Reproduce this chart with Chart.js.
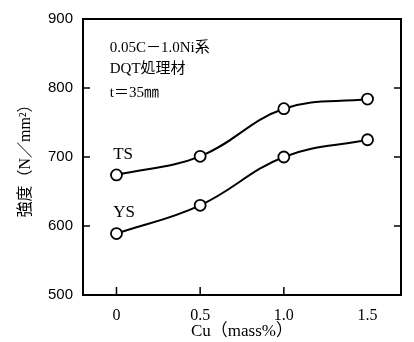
<!DOCTYPE html>
<html>
<head>
<meta charset="utf-8">
<script src="https://cdn.jsdelivr.net/npm/chart.js@4"></script>
<style>
  html, body { margin: 0; padding: 0; background: #fff; }
  canvas { display: block; }
</style>
</head>
<body>
<canvas id="strengthChart" width="414" height="342"></canvas>
<script>
// Cu content (mass%) and strength values (N/mm2)
const cuContent = [0, 0.5, 1.0, 1.5];
const tsValues = [674, 701, 770, 784];
const ysValues = [589, 630, 700, 725];
const xTicks = [0, 0.5, 1.0, 1.5];
const xTickLabels = ['0', '0.5', '1.0', '1.5'];
const yTicks = [500, 600, 700, 800, 900];
const noteLines = ['0.05C－1.0Ni系', 'DQT処理材', 't＝35㎜'];

const serif = '"Liberation Serif", "Noto Sans CJK JP", serif';
const sans = '"Liberation Sans", Arial, sans-serif';

function toPoints(ys) {
  return cuContent.map((c, i) => ({ x: c, y: ys[i] }));
}

const seriesStyle = {
  borderColor: '#000',
  borderWidth: 2,
  backgroundColor: '#fff',
  pointRadius: 5.5,
  pointBorderWidth: 1.8,
  pointBackgroundColor: '#fff',
  pointBorderColor: '#000',
  tension: 0.4,
  fill: false
};

// frame, inward tick marks and the text notes
const decorations = {
  id: 'decorations',
  afterDraw(chart) {
    const { ctx, chartArea: a, scales } = chart;
    const x = scales.x, y = scales.y;
    ctx.save();
    ctx.strokeStyle = '#000';
    ctx.lineWidth = 2;
    ctx.strokeRect(a.left, a.top, a.right - a.left, a.bottom - a.top);

    ctx.lineWidth = 1.5;
    ctx.beginPath();
    yTicks.slice(1, -1).forEach(v => {
      const py = y.getPixelForValue(v);
      ctx.moveTo(a.left, py); ctx.lineTo(a.left + 7, py);
      ctx.moveTo(a.right, py); ctx.lineTo(a.right - 7, py);
    });
    xTicks.slice(0, 3).forEach(v => {
      const px = x.getPixelForValue(v);
      ctx.moveTo(px, a.bottom); ctx.lineTo(px, a.bottom - 8);
    });
    ctx.stroke();

    ctx.fillStyle = '#000';
    ctx.textBaseline = 'middle';
    ctx.textAlign = 'left';
    ctx.font = '15px ' + serif;
    const noteX = x.getPixelForValue(-0.04);
    [858, 827, 793].forEach((v, i) => {
      ctx.fillText(noteLines[i], noteX, y.getPixelForValue(v));
    });

    ctx.font = '17px ' + serif;
    ctx.fillText('TS', x.getPixelForValue(-0.02), y.getPixelForValue(704));
    ctx.fillText('YS', x.getPixelForValue(-0.02), y.getPixelForValue(620));
    ctx.restore();
  }
};

new Chart(document.getElementById('strengthChart'), {
  type: 'line',
  data: {
    datasets: [
      Object.assign({ label: 'TS', data: toPoints(tsValues) }, seriesStyle),
      Object.assign({ label: 'YS', data: toPoints(ysValues) }, seriesStyle)
    ]
  },
  options: {
    responsive: false,
    animation: false,
    devicePixelRatio: 1,
    layout: { padding: { top: 15, right: 13, left: 0, bottom: 0 } },
    plugins: {
      legend: { display: false },
      tooltip: { enabled: false }
    },
    scales: {
      x: {
        type: 'linear',
        min: -0.2,
        max: 1.7,
        afterBuildTicks: s => { s.ticks = xTicks.map(v => ({ value: v })); },
        afterFit: s => { s.height = 47; },
        grid: { display: false, drawTicks: false },
        border: { display: false },
        ticks: {
          color: '#000',
          padding: 11,
          font: { family: serif, size: 16 },
          callback: (v) => xTickLabels[xTicks.indexOf(v)]
        },
        title: {
          display: true,
          text: 'Cu（mass%）',
          color: '#000',
          font: { family: serif, size: 17 },
          padding: { top: 0, bottom: 0 }
        }
      },
      y: {
        min: 500,
        max: 900,
        afterBuildTicks: s => { s.ticks = yTicks.map(v => ({ value: v })); },
        afterFit: s => { s.width = 83; },
        grid: { display: false, drawTicks: false },
        border: { display: false },
        ticks: {
          color: '#000',
          padding: 10,
          font: { family: sans, size: 15 }
        },
        title: {
          display: true,
          text: '強度（N／mm²）',
          color: '#000',
          font: { family: serif, size: 16 },
          padding: { top: 16, bottom: 0 }
        }
      }
    }
  },
  plugins: [decorations]
});
</script>
</body>
</html>
